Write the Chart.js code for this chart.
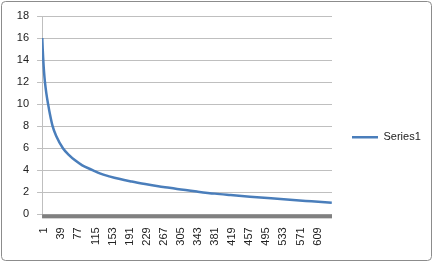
<!DOCTYPE html>
<html>
<head>
<meta charset="utf-8">
<script src="https://cdn.jsdelivr.net/npm/chart.js@4/dist/chart.umd.min.js"></script>
<style>
html,body{margin:0;padding:0;background:#fff;}
#wrap{width:434px;height:262px;position:relative;}
</style>
</head>
<body>
<div id="wrap"><canvas id="lineChart" width="434" height="262"></canvas></div>
<script>
// category number where the curve was read, and the value there
var pointIndex = [1, 2, 3, 5, 7, 10, 14, 18, 24, 32, 47, 60, 74, 90, 114, 129, 150, 174, 200, 236, 270, 301, 345, 385, 420, 463, 510, 552, 600, 645];
var values = [16.0, 15.0, 14.2, 12.9, 12.0, 11.0, 10.0, 9.1, 8.0, 7.1, 6.0, 5.4, 4.9, 4.45, 4.0, 3.72, 3.45, 3.2, 2.98, 2.7, 2.49, 2.3, 2.07, 1.88, 1.75, 1.6, 1.45, 1.32, 1.18, 1.05];
var tickLabels = [1, 39, 77, 115, 153, 191, 229, 267, 305, 343, 381, 419, 457, 495, 533, 571, 609];
var categoryCount = 645;
var seriesName = 'Series1';

var pts = [];
for (var i = 0; i < pointIndex.length; i++) {
  pts.push({x: pointIndex[i], y: values[i]});
}

// excel style frame + thick category axis
var excelBits = {
  id: 'excelBits',
  afterDraw: function(chart) {
    var c = chart.ctx, a = chart.chartArea;
    c.save();
    c.fillStyle = '#808080';
    c.fillRect(a.left, a.bottom, a.right - a.left, 4);
    c.strokeStyle = '#8c8c8c';
    c.lineWidth = 1;
    c.beginPath();
    c.roundRect(1.5, 1.5, 430, 259, 4);
    c.stroke();
    c.restore();
  }
};

var ctx = document.getElementById('lineChart').getContext('2d');
var myChart = new Chart(ctx, {
  type: 'line',
  data: {
    datasets: [{
      label: seriesName,
      data: pts,
      borderColor: '#4a7ebb',
      backgroundColor: '#4a7ebb',
      borderWidth: 2.5,
      pointRadius: 0,
      cubicInterpolationMode: 'monotone',
      fill: false
    }]
  },
  options: {
    responsive: false,
    animation: false,
    layout: {padding: {left: 8.8, right: 3.2, top: 16, bottom: 3.3}},
    plugins: {
      tooltip: {enabled: false},
      legend: {
        position: 'right',
        labels: {
          usePointStyle: true,
          pointStyle: 'line',
          pointStyleWidth: 26,
          padding: 20,
          color: '#222',
          font: {family: 'Liberation Sans, Arial, sans-serif', size: 11}
        }
      }
    },
    scales: {
      x: {
        type: 'linear',
        min: 0.5,
        max: categoryCount + 0.5,
        grid: {display: false, drawTicks: false},
        border: {display: false},
        afterBuildTicks: function(axis) {
          axis.ticks = tickLabels.map(function(v) { return {value: v}; });
        },
        ticks: {
          autoSkip: false,
          minRotation: 90,
          maxRotation: 90,
          padding: 13,
          labelOffset: 2,
          color: '#222',
          font: {family: 'Liberation Sans, Arial, sans-serif', size: 11},
          callback: function(v) { return String(v); }
        }
      },
      y: {
        min: 0,
        max: 18,
        grid: {color: '#bfbfbf', tickLength: 5},
        border: {color: '#bfbfbf', width: 1},
        ticks: {
          stepSize: 2,
          padding: 8,
          color: '#222',
          font: {family: 'Liberation Sans, Arial, sans-serif', size: 11}
        }
      }
    }
  },
  plugins: [excelBits]
});
</script>
</body>
</html>
